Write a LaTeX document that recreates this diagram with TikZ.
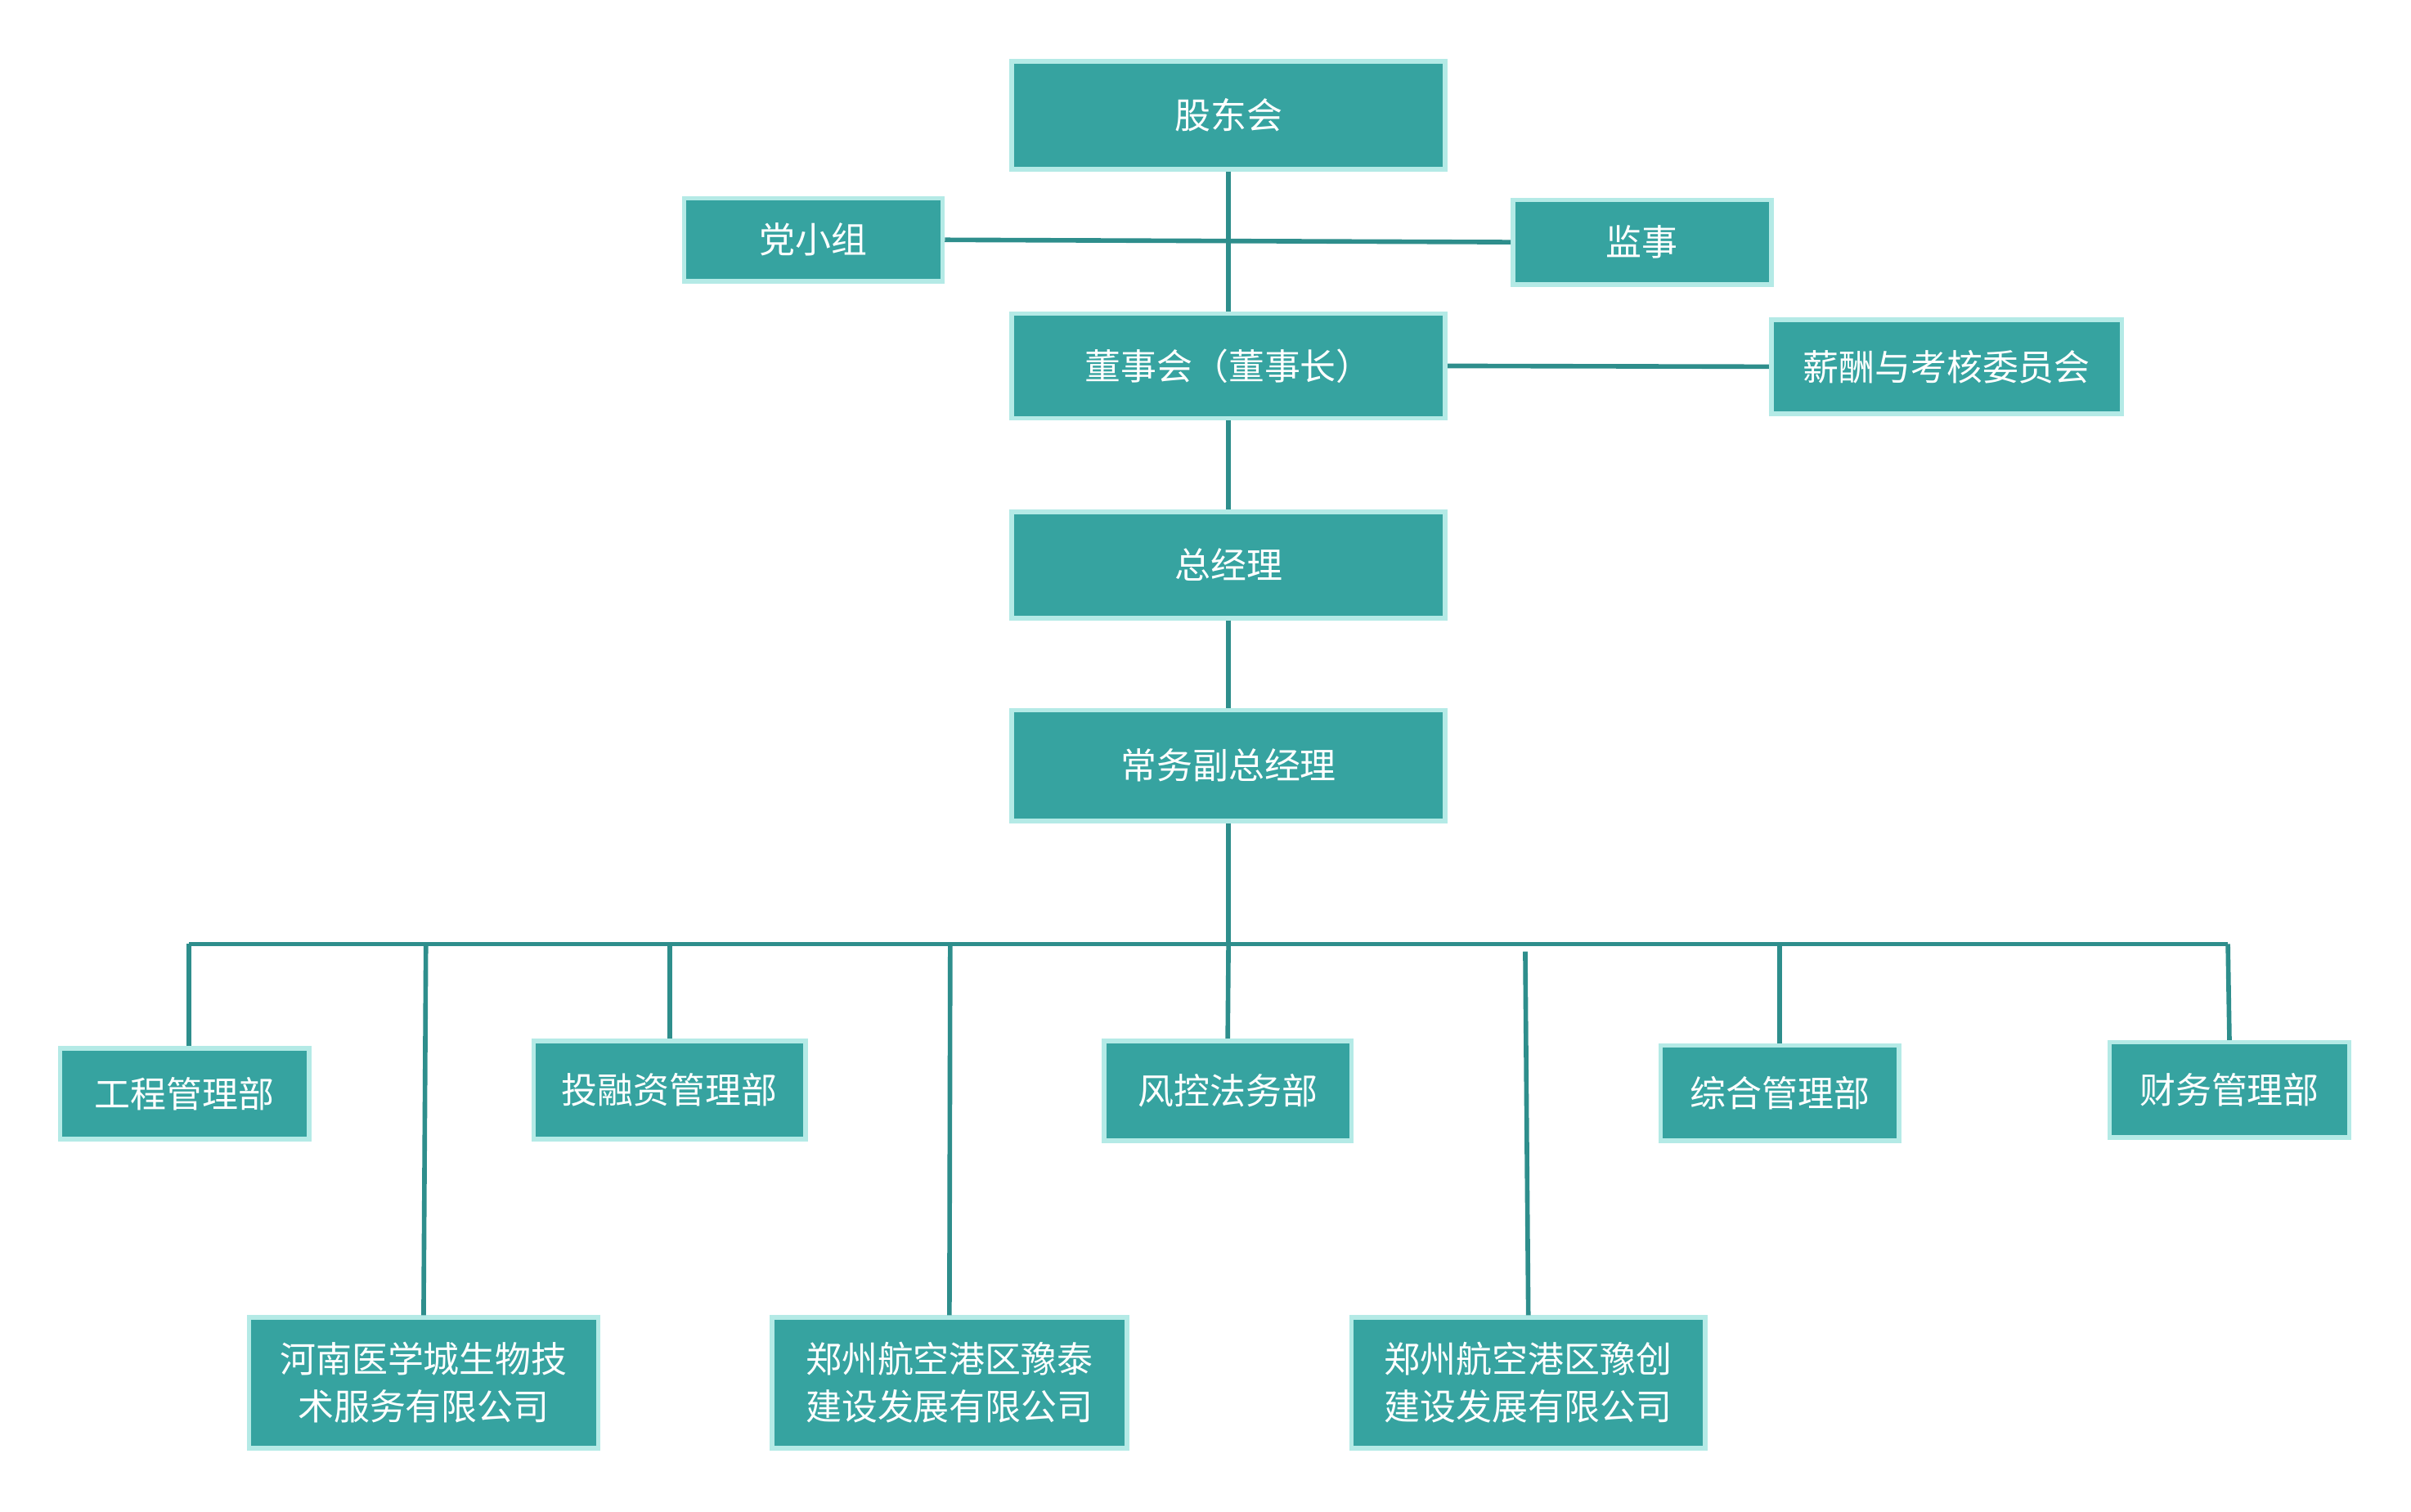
\documentclass[tikz,border=0pt]{standalone}
\usepackage{fontspec}
\newfontfamily\cjk{Noto Sans CJK SC}
\definecolor{boxfill}{HTML}{36A3A0}
\definecolor{boxline}{HTML}{B4EAE6}
\definecolor{conn}{HTML}{2E8E8C}
\tikzset{box/.style={draw=boxline,line width=1.6pt,fill=boxfill,text=white,align=center,inner sep=0pt,font=\cjk\fontsize{12.5}{16.5}\selectfont},
link/.style={draw=conn,line width=1.6pt}}
\newcommand\mybox[6]{\node[box,minimum width={(#4-#2)*0.0188cm},minimum height={(#5-#3)*0.0188cm}] (#1) at ({(#2+#4)/2},{(#3+#5)/2}) {#6};}
\begin{document}
\begin{tikzpicture}[x=0.0188cm,y=-0.0188cm]
\useasboundingbox (0,0) rectangle (1568.1,983.0);
\mybox{gd}{658}{40}{940}{110}{股东会}
\mybox{dxz}{445}{129}{613}{183}{党小组}
\mybox{js}{984}{130}{1152}{185}{监事}
\mybox{dsh}{658}{204}{940}{272}{董事会（董事长）}
\mybox{xc}{1152}{208}{1380}{269}{薪酬与考核委员会}
\mybox{zjl}{658}{333}{940}{402}{总经理}
\mybox{cw}{658}{462}{940}{534}{常务副总经理}
\mybox{gc}{39}{682}{201}{741}{工程管理部}
\mybox{trz}{347}{677}{524}{741}{投融资管理部}
\mybox{fk}{718}{677}{879}{742}{风控法务部}
\mybox{zh}{1080}{680}{1235}{742}{综合管理部}
\mybox{cwb}{1372}{678}{1528}{740}{财务管理部}
\mybox{hn}{162}{857}{389}{942}{河南医学城生物技\\术服务有限公司}
\mybox{yt}{502}{857}{733}{942}{郑州航空港区豫泰\\建设发展有限公司}
\mybox{yc}{879}{857}{1109}{942}{郑州航空港区豫创\\建设发展有限公司}
\coordinate (bl) at (123,614);
\coordinate (br) at (1449,614);
\coordinate (bm) at (799,614);
\coordinate (b2) at (277,614);
\coordinate (b4) at (618,614);
\coordinate (b6) at (992,619);
\draw[link] (gd.south) -- (dsh.north);
\draw[link] (dxz.east) -- (js.west);
\draw[link] (dsh.east) -- (xc.west);
\draw[link] (dsh.south) -- (zjl.north);
\draw[link] (zjl.south) -- (cw.north);
\draw[link] (cw.south) -- (bm);
\draw[link] (bl) -- (br);
\draw[link] (bl) -- (gc.north -| bl);
\draw[link] (b2) -- (hn.north);
\draw[link] (trz.north |- bl) -- (trz.north);
\draw[link] (b4) -- (yt.north);
\draw[link] (bm) -- (fk.north);
\draw[link] (b6) -- (yc.north);
\draw[link] (zh.north |- bl) -- (zh.north);
\draw[link] (br) -- (cwb.north);
\end{tikzpicture}
\end{document}
